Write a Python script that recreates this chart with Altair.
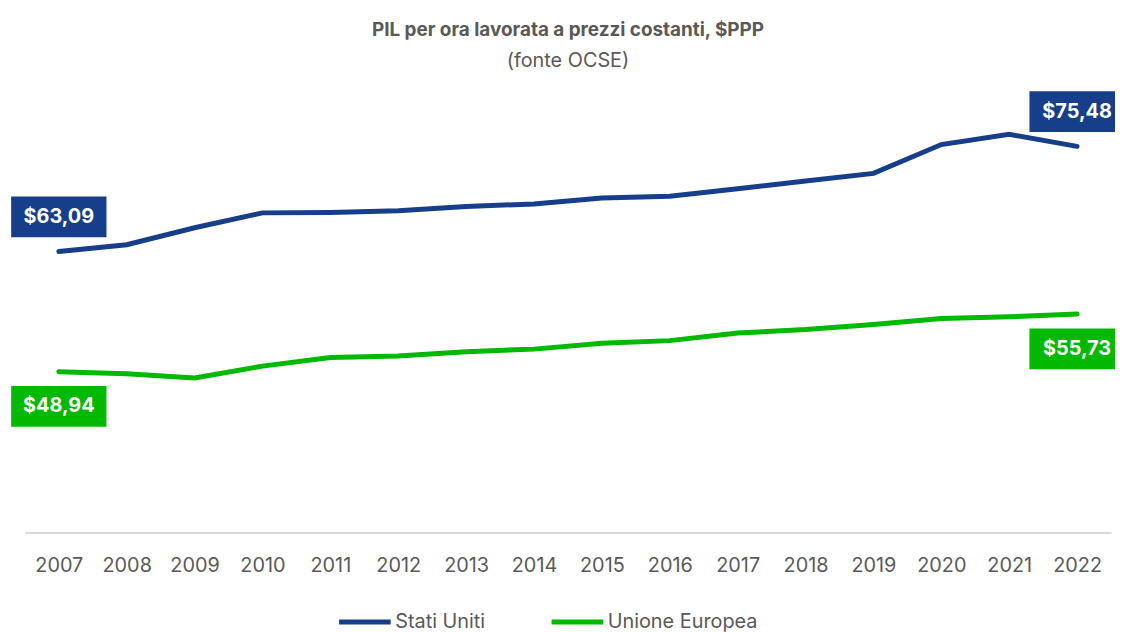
import altair as alt
import pandas as pd

years = list(range(2007, 2023))
us = [63.09, 63.9, 65.9, 67.65, 67.7, 67.9, 68.4, 68.7, 69.4, 69.6, 70.5, 71.4, 72.3, 75.7, 76.9, 75.48]
eu = [48.94, 48.7, 48.2, 49.6, 50.6, 50.8, 51.3, 51.6, 52.3, 52.6, 53.5, 53.9, 54.5, 55.2, 55.4, 55.73]
series = ["Stati Uniti", "Unione Europea"]
colors = ["#173e8b", "#00b900"]

rows = []
for y, a, b in zip(years, us, eu):
    rows.append({"anno": y, "serie": series[0], "valore": a})
    rows.append({"anno": y, "serie": series[1], "valore": b})
df = pd.DataFrame(rows)

lab = df[df["anno"].isin([years[0], years[-1]])].copy()
lab["testo"] = lab["valore"].map(lambda v: "$" + f"{v:.2f}".replace(".", ","))

FONT = "Inter"
GREY = "#595959"

x = alt.X("anno:Q", scale=alt.Scale(domain=[2006.5, 2022.5], nice=False, zero=False),
          axis=alt.Axis(values=years, format="d", title=None, grid=False, ticks=False,
                        domainColor="#d9d9d9", domainWidth=2, labelFontSize=20,
                        labelColor=GREY, labelFont=FONT, labelPadding=23,
                        labelFlush=False))
y = alt.Y("valore:Q", scale=alt.Scale(domain=[30, 80], nice=False, zero=False), axis=None)
color = alt.Color("serie:N", scale=alt.Scale(domain=series, range=colors),
                  legend=alt.Legend(title=None, orient="none", direction="horizontal",
                                    legendX=314, legendY=489, symbolType="stroke",
                                    symbolSize=2704, symbolStrokeWidth=5,
                                    labelFontSize=20, labelColor=GREY, labelFont=FONT,
                                    labelOffset=2, columnPadding=56))

lines = alt.Chart(df).mark_line(strokeWidth=5, strokeCap="round").encode(x=x, y=y, color=color)

def labels(name, off):
    base = alt.Chart(lab).transform_filter(alt.datum.serie == name)
    box = base.mark_rect(width=96, height=41, yOffset=off).encode(
        x="anno:Q", y="valore:Q",
        color=alt.Color("serie:N", scale=alt.Scale(domain=series, range=colors), legend=None))
    txt = base.mark_text(font=FONT, fontSize=20, fontWeight="bold", color="white",
                         yOffset=off, baseline="middle", align="center").encode(
        x="anno:Q", y="valore:Q", text="testo:N")
    return box + txt

chart = alt.layer(lines, labels(series[0], -35), labels(series[1], 35)).properties(
    width=1094, height=427.5,
    autosize="none",
    padding={"left": 17, "top": 98.5, "right": 4, "bottom": 98},
    title=alt.TitleParams(text="PIL per ora lavorata a prezzi costanti, $PPP",
                          subtitle="(fonte OCSE)", font=FONT, fontSize=19, fontWeight="bold",
                          color=GREY, subtitleFont=FONT, subtitleFontSize=20,
                          subtitleColor=GREY, subtitlePadding=12, anchor="middle",
                          frame="group", offset=20),
).configure_view(stroke=None)

chart.save("out.html", embed_options={"renderer": "svg", "actions": False})
